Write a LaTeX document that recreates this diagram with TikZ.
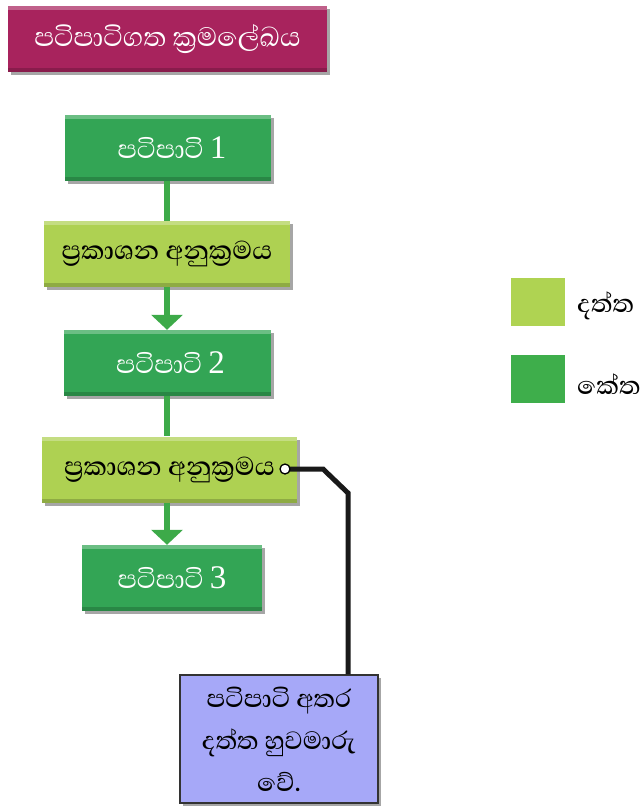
\documentclass[tikz,border=0pt]{standalone}
\usepackage{fontspec}
\newfontfamily\sinhalafont[Script=Sinhala]{Abhaya Libre}
\newfontfamily\sinhalamed[Script=Sinhala]{Abhaya Libre Medium}
\newfontfamily\digitfont{Liberation Serif}
\usetikzlibrary{arrows.meta,shadows}
\definecolor{titlecol}{HTML}{A8235D}
\definecolor{darkgr}{HTML}{33A555}
\definecolor{lightgr}{HTML}{AED152}
\definecolor{leggr}{HTML}{3EAE4B}
\definecolor{leglight}{HTML}{AFD352}
\definecolor{linegr}{HTML}{3DAA49}
\definecolor{notecol}{HTML}{A6A8F8}
\newcommand{\dg}[1]{{\digitfont #1}}
\tikzset{
  bevel/.style={path picture={
    \fill[white,opacity=0.28] (path picture bounding box.north west) rectangle ([yshift=-4pt]path picture bounding box.north east);
    \fill[black,opacity=0.18] (path picture bounding box.south west) rectangle ([yshift=4pt]path picture bounding box.south east);}},
  boxbase/.style={rectangle, inner sep=0pt, bevel,
    drop shadow={shadow xshift=3pt, shadow yshift=-3pt, opacity=0.35, fill=black}},
  titlebox/.style={boxbase, fill=titlecol, text=white, minimum width=319pt, minimum height=66pt, font=\sinhalafont\fontsize{34}{38}\selectfont},
  procbox/.style={boxbase, fill=darkgr, text=white, minimum height=66pt, font=\sinhalafont\fontsize{33}{38}\selectfont},
  stmtbox/.style={boxbase, fill=lightgr, text=black, minimum height=66pt, font=\sinhalamed\fontsize{33}{38}\selectfont},
  notebox/.style={rectangle, inner sep=0pt, fill=notecol, draw=black!80, line width=1.2pt,
    drop shadow={shadow xshift=3pt, shadow yshift=-3pt, opacity=0.35, fill=black},
    minimum width=198pt, minimum height=128pt, align=center,
    font=\sinhalamed\fontsize{32}{42}\selectfont},
  legsq/.style={rectangle, inner sep=0pt, minimum width=54pt, minimum height=48pt},
  legtext/.style={anchor=west, inner sep=0pt, font=\sinhalamed\fontsize{32}{36}\selectfont},
  flow/.style={draw=linegr, line width=6pt},
  flowarrow/.style={flow, -{Triangle[width=31pt,length=15pt]}},
  callout/.style={draw=black!90, line width=5pt, line join=miter},
}
\begin{document}
\begin{tikzpicture}[x=1pt,y=-1pt]
\useasboundingbox (0,0) rectangle (644,806);
\coordinate (axis) at (167,0);
\node[titlebox] (title) at (167.5,39) {පටිපාටිගත ක්^^^^200dරමලේඛය};
\node[procbox, minimum width=206pt] (p1) at (168,148) {\hspace{8pt}පටිපාටි \dg{1}};
\node[stmtbox, minimum width=246pt] (s1) at (167,254) {ප්^^^^200dරකාශන අනුක්^^^^200dරමය};
\node[procbox, minimum width=207pt] (p2) at (167.5,363) {\hspace{6pt}පටිපාටි \dg{2}};
\node[stmtbox, minimum width=255pt] (s2) at (169.5,469.5) {ප්^^^^200dරකාශන අනුක්^^^^200dරමය\hspace{14pt}};
\node[procbox, minimum width=180pt] (p3) at (172,578) {පටිපාටි \dg{3}};
\node[notebox] (note) at (279,739) {පටිපාටි අතර\\දත්ත හුවමාරු\\වේ.};

\draw[flow] (p1.south -| axis) -- (s1.north -| axis);
\draw[flowarrow] (s1.south -| axis) -- (p2.north -| axis);
\draw[flow] (p2.south -| axis) -- (s2.north -| axis);
\draw[flowarrow] (s2.south -| axis) -- (p3.north -| axis);

\coordinate (dot) at (285,469);
\coordinate (bend1) at (323,469);
\coordinate (bend2) at (348,493);
\coordinate (drop) at (348,0);
\draw[callout] (dot) -- (bend1) -- (bend2) -- (note.north -| drop);
\node[circle, fill=white, draw=black, line width=1.3pt, minimum size=10pt, inner sep=0pt] (dotc) at (dot) {};

\node[legsq, fill=leglight] (lg1) at (538,302) {};
\node[legtext] (lt1) at (577,306) {දත්ත};
\node[legsq, fill=leggr] (lg2) at (538,379) {};
\node[legtext] (lt2) at (577,384) {කේත};
\end{tikzpicture}
\end{document}
